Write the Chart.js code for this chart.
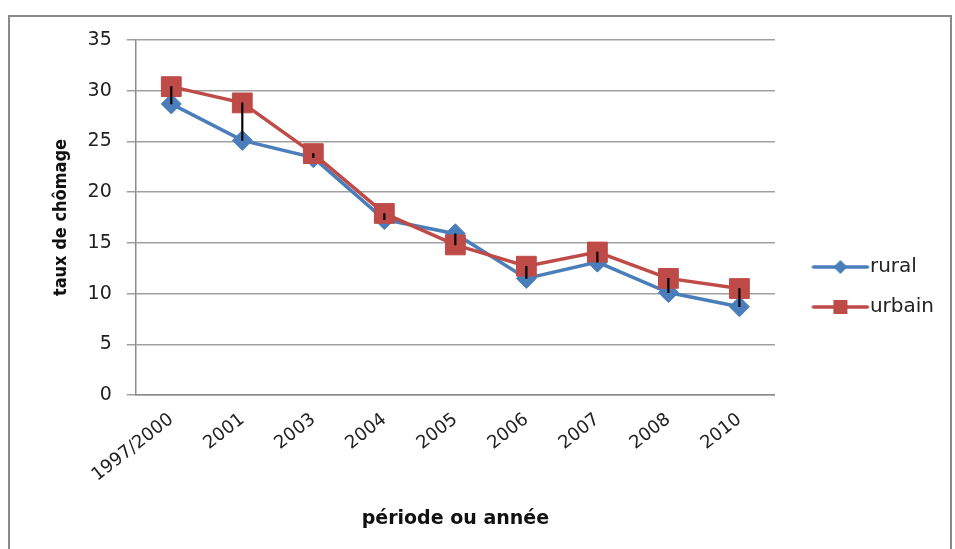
<!DOCTYPE html>
<html>
<head>
<meta charset="utf-8">
<script src="https://cdn.jsdelivr.net/npm/chart.js@4"></script>
<style>
    body { margin: 0; background: #fff; }
    #cadre { position: absolute; left: 8px; top: 15px; width: 940px; height: 560px; border: 2px solid #8a8a8a; }
    #zone { position: absolute; left: 0; top: 0; width: 955px; height: 549px; }
</style>
</head>
<body>
<div id="cadre"></div>
<div id="zone"><canvas id="graphique"></canvas></div>
<script>
const periodes = ["1997/2000", "2001", "2003", "2004", "2005", "2006", "2007", "2008", "2010"];
const rural = [28.7, 25.1, 23.4, 17.3, 15.9, 11.5, 13.1, 10.1, 8.7];
const urbain = [30.4, 28.8, 23.8, 17.9, 14.8, 12.7, 14.1, 11.5, 10.5];
const yTicks = [0, 5, 10, 15, 20, 25, 30, 35];

const bleu = "#4a7ebb";
const rouge = "#be4b48";

// petite image ligne + marqueur pour la légende
function legendIcon(color, forme) {
    const c = document.createElement("canvas");
    c.width = 90;
    c.height = 20;
    const ctx = c.getContext("2d");
    ctx.strokeStyle = color;
    ctx.lineWidth = 3.5;
    ctx.lineCap = "round";
    ctx.beginPath();
    ctx.moveTo(31, 10);
    ctx.lineTo(85, 10);
    ctx.stroke();
    ctx.fillStyle = color;
    ctx.beginPath();
    if (forme === "losange") {
        ctx.moveTo(58, 3);
        ctx.lineTo(65, 10);
        ctx.lineTo(58, 17);
        ctx.lineTo(51, 10);
        ctx.closePath();
    } else {
        ctx.rect(51, 3, 14, 14);
    }
    ctx.fill();
    return c;
}

const iconeRural = legendIcon(bleu, "losange");
const iconeUrbain = legendIcon(rouge, "carre");

new Chart(document.querySelector("#graphique"), {
    data: {
        labels: periodes,
        datasets: [
            {
                type: "line",
                label: "rural",
                data: rural,
                borderColor: bleu,
                backgroundColor: bleu,
                borderWidth: 3.5,
                pointStyle: "rectRot",
                pointRadius: 10,
                pointBorderWidth: 1,
                order: 2,
            },
            {
                type: "line",
                label: "urbain",
                data: urbain,
                borderColor: rouge,
                backgroundColor: rouge,
                borderWidth: 3.5,
                pointStyle: "rect",
                pointRadius: 14,
                pointBorderWidth: 1,
                order: 1,
            },
            {
                type: "bar",
                label: "ecart",
                data: rural.map((v, i) => [v, urbain[i]]),
                backgroundColor: "#000",
                barThickness: 1.5,
                order: 0,
            },
        ],
    },
    options: {
        responsive: true,
        maintainAspectRatio: false,
        animation: false,
        layout: {
            autoPadding: false,
            padding: { left: 35, right: 11, top: 40, bottom: 15 },
        },
        plugins: {
            tooltip: { enabled: false },
            legend: {
                position: "right",
                labels: {
                    usePointStyle: true,
                    pointStyleWidth: 65,
                    padding: 20,
                    color: "#222",
                    font: { family: "DejaVu Sans", size: 20 },
                    generateLabels: () => [
                        { text: "rural", pointStyle: iconeRural, fillStyle: bleu, strokeStyle: bleu, lineWidth: 0, datasetIndex: 0, hidden: false, fontColor: "#222" },
                        { text: "urbain", pointStyle: iconeUrbain, fillStyle: rouge, strokeStyle: rouge, lineWidth: 0, datasetIndex: 1, hidden: false, fontColor: "#222" },
                    ],
                },
            },
        },
        scales: {
            x: {
                offset: true,
                afterFit: (scale) => {
                    // les étiquettes inclinées peuvent déborder sous l'axe des y
                    scale.paddingLeft = 0;
                },
                grid: { display: false },
                border: { display: true, color: "#8c8c8c", width: 1.5 },
                ticks: {
                    maxRotation: 38,
                    minRotation: 38,
                    padding: 6,
                    color: "#222",
                    font: { family: "DejaVu Sans", size: 18 },
                },
                title: {
                    display: true,
                    text: "période ou année",
                    color: "#111",
                    font: { family: "DejaVu Sans", size: 19, weight: "bold" },
                    padding: { top: 15 },
                },
            },
            y: {
                min: 0,
                max: 35,
                afterBuildTicks: (axis) => {
                    axis.ticks = yTicks.map((v) => ({ value: v }));
                },
                grid: { color: "#a0a0a0", lineWidth: 1.5, tickLength: 9 },
                border: { display: true, color: "#8c8c8c", width: 1.5 },
                ticks: {
                    padding: 15,
                    color: "#222",
                    font: { family: "DejaVu Sans", size: 19 },
                },
                title: {
                    display: true,
                    text: "taux de chômage",
                    color: "#111",
                    font: { family: "DejaVu Sans Condensed", size: 18, weight: "bold" },
                    padding: { top: 16, bottom: 0 },
                },
            },
        },
    },
});
</script>
</body>
</html>
